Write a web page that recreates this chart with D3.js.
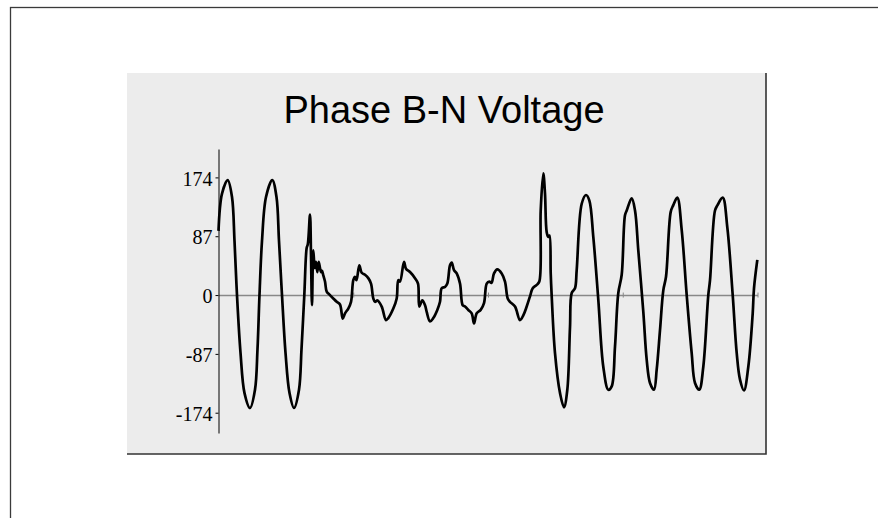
<!DOCTYPE html>
<html><head><meta charset="utf-8">
<script src="https://cdn.jsdelivr.net/npm/d3@7"></script>
<style>html,body{margin:0;padding:0;background:#fff;}svg{display:block;}</style>
</head><body>
<div id="chart"></div>
<script>
const title = "Phase B-N Voltage";
const yTicks = [-174, -87, 0, 87, 174];
const xTicks = [0, 50, 100, 150, 200];
// time (ms) and voltage samples
const timeMs = [0,1.30,3.41,5.01,5.94,6.86,8.16,9.65,11.69,13.54,14.47,15.21,16.14,17.63,19.96,21.52,22.45,23.56,24.86,26.35,28.01,29.87,30.80,31.84,32.73,33.14,33.95,34.32,34.69,35.18,35.70,36.18,36.66,37.18,37.66,38.03,38.41,38.89,39.52,40.15,41.11,42.60,43.86,45.08,46.09,46.94,48.16,49.17,50.02,50.65,51.21,52.25,53.14,54.36,55.58,56.59,57.44,58.07,59.00,60.56,62.15,63.01,64.86,66.12,66.72,67.35,68.83,69.57,71.06,72.91,74.03,74.51,75.62,76.63,77.25,78.48,79.70,81.19,82.19,82.82,84.04,84.90,85.90,86.53,87.38,88.39,89.61,90.61,91.47,92.69,93.95,94.81,95.81,97.29,98.52,99.52,100.48,101.30,102.23,103.45,105.08,106.31,107.31,108.16,110.02,111.87,113.10,114.36,115.58,116.59,118.07,119.04,119.56,120.52,121.15,121.78,122.38,122.82,123.27,123.64,124.86,126.72,128.20,129.43,130.43,131.06,132.28,132.91,134.77,136.36,137.59,139.07,140.93,142.78,144.64,145.90,147.13,148.35,149.61,150.83,151.47,153.32,154.55,155.77,157.63,158.89,160.11,161.60,162.60,163.82,165.05,166.05,167.80,168.76,170.24,171.88,173.73,175.58,176.81,178.40,179.89,181.74,182.38,184.23,185.16,187.09,188.80,190.80,192.29,193.51,194.99,196.59,198.22,198.70,199.93];
const voltage = [95,150,170,145,80,0,-85,-145,-167,-140,-80,0,80,145,170,145,80,0,-85,-145,-167,-140,-80,0,70,75,119,60,-15,66,40,49,34,49,40,34,36,29,20,5,1,-5,-10,-14,-35,-27,-20,-10,22,27,22,44,33,30,25,17,-5,-10,-8,-17,-37,-34,-20,-5,22,20,49,39,34,25,17,-17,-8,-15,-25,-39,-34,-22,-10,10,12,17,44,48,37,32,17,-15,-17,-22,-27,-42,-27,-22,-12,17,20,18,32,38,32,20,-5,-10,-17,-37,-30,-17,-2,10,15,20,125,180,150,93,86,88,32,-2,-86,-145,-166,-140,-47,3,10,37,135,148,140,86,-7,-106,-140,-135,-76,3,30,118,125,143,125,66,-25,-96,-130,-140,-110,-52,7,27,123,133,144,96,0,-86,-130,-140,-106,0,22,125,133,144,100,0,-86,-125,-141,-106,-27,10,52];

const W = 878, H = 518;
const svg = d3.select("#chart").append("svg").attr("width", W).attr("height", H);
svg.append("rect").attr("width", W).attr("height", H).attr("fill", "#fff");

// outer frame (extends past the viewport on right/bottom)
svg.append("rect").attr("x", 10.5).attr("y", 7.5).attr("width", 1000).attr("height", 1000)
  .attr("fill", "none").attr("stroke", "#3a3a3a").attr("stroke-width", 1.3);

// panel
const panel = {x: 127, y: 73, w: 639, h: 381};
svg.append("rect").attr("x", panel.x).attr("y", panel.y).attr("width", panel.w).attr("height", panel.h).attr("fill", "#ececec");
svg.append("path").attr("d", `M${panel.x},${panel.y + panel.h}H${panel.x + panel.w}V${panel.y}`)
  .attr("fill", "none").attr("stroke", "#333").attr("stroke-width", 1.6);

svg.append("text").attr("x", 444).attr("y", 123).attr("text-anchor", "middle")
  .attr("font-family", "'Liberation Sans', Arial, sans-serif").attr("font-size", 38).attr("fill", "#000")
  .text(title);

const x = d3.scaleLinear().domain([0, 200]).range([218.5, 757.5]);
const y = d3.scaleLinear().domain([-204, 216]).range([433, 149]);

// zero line with x ticks
const xAxis = svg.append("g").attr("transform", `translate(0,${y(0)})`)
  .call(d3.axisBottom(x).tickValues(xTicks).tickSize(0).tickFormat(""));
xAxis.select(".domain").attr("stroke", "#888").attr("stroke-width", 1.6);
xAxis.selectAll(".tick line").remove();
xAxis.selectAll(".tick").filter(d => d > 0).append("line").attr("y1", -2.5).attr("y2", 2.5).attr("stroke", "#888").attr("stroke-width", 1);

// y axis
const yAxis = svg.append("g").attr("transform", `translate(218.5,0)`)
  .call(d3.axisLeft(y).tickValues(yTicks).tickFormat(d => String(d)).tickSize(3).tickPadding(3).tickSizeOuter(0));
yAxis.select(".domain").attr("stroke", "#000").attr("stroke-width", 1);
yAxis.selectAll(".tick line").attr("stroke", "#000");
yAxis.selectAll(".tick text").attr("font-family", "'Liberation Serif', 'Times New Roman', serif")
  .attr("font-size", 20).attr("fill", "#000").attr("dy", "0.38em");

const data = timeMs.map((t, i) => ({t, v: voltage[i]}));
const line = d3.line().x(d => x(d.t)).y(d => y(d.v)).curve(d3.curveCatmullRom.alpha(0.5));
svg.append("path").datum(data).attr("d", line).attr("fill", "none")
  .attr("stroke", "#000").attr("stroke-width", 2.7).attr("stroke-linejoin", "round");
</script>
</body></html>
